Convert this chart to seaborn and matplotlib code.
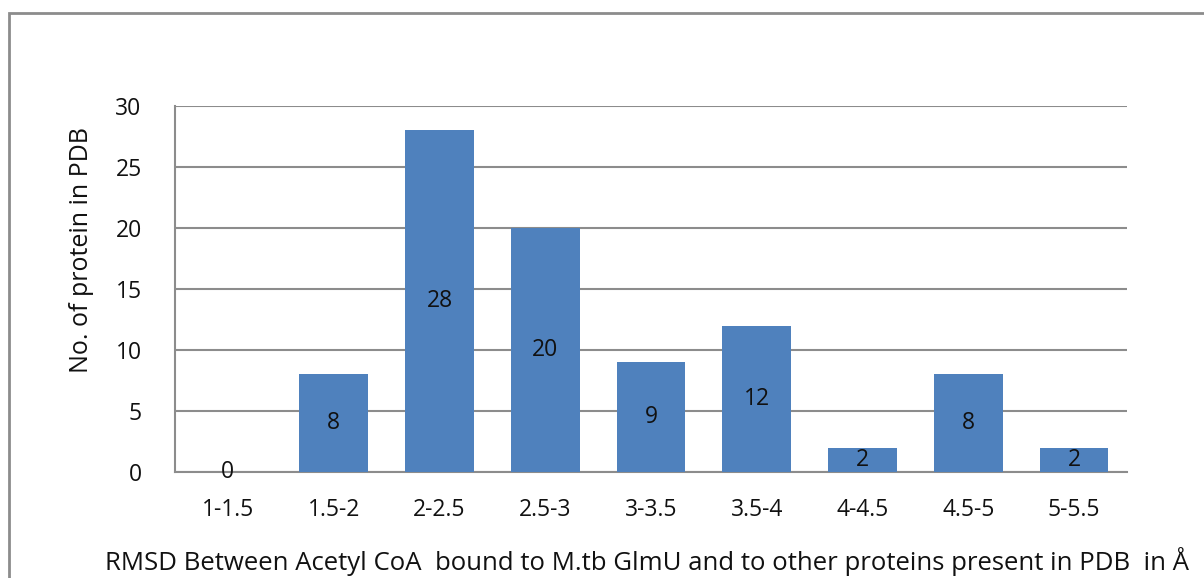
import matplotlib
matplotlib.use("Agg")
import matplotlib.pyplot as plt
from matplotlib.patches import Rectangle
import pandas as pd
import seaborn as sns

bins = ['1-1.5', '1.5-2', '2-2.5', '2.5-3', '3-3.5', '3.5-4', '4-4.5', '4.5-5', '5-5.5']
counts = [0, 8, 28, 20, 9, 12, 2, 8, 2]
y_ticks = [0, 5, 10, 15, 20, 25, 30]

sns.set_theme(style="white")
plt.rcParams['font.family'] = ['Open Sans', 'DejaVu Sans']

data = pd.DataFrame({'RMSD': bins, 'Count': counts})

fig = plt.figure(figsize=(12.04, 5.78), dpi=100)
fig.patch.set_facecolor('white')
# outer chart frame (only top/left edges fall inside the image)
fig.patches.append(Rectangle((9 / 1204, -0.1), 1.2, 1 - 13 / 578 + 0.1,
                             transform=fig.transFigure, fill=False,
                             edgecolor='#8c8c8c', linewidth=2))

ax = fig.add_axes([175 / 1204, 1 - 472 / 578, (1127 - 175) / 1204, (472 - 106) / 578])
sns.barplot(data=data, x='RMSD', y='Count', color='#4F81BD', saturation=1,
            width=0.65, linewidth=0, ax=ax, zorder=3)

ax.bar_label(ax.containers[0], label_type='center', fontsize=16.5, color='#111111')

ax.set_ylim(0, 30)
ax.set_yticks(y_ticks)
ax.set_xlim(-0.5, len(bins) - 0.5)
ax.yaxis.grid(True, color='#8c8c8c', linewidth=1.5, zorder=0)
ax.set_axisbelow(True)
for side in ['top', 'right']:
    ax.spines[side].set_visible(False)
for side in ['left', 'bottom']:
    ax.spines[side].set_color('#8c8c8c')
    ax.spines[side].set_linewidth(1.5)
ax.tick_params(axis='both', length=0, labelsize=16.5, colors='#111111')
ax.tick_params(axis='y', pad=24)
ax.tick_params(axis='x', pad=19)

ax.set_ylabel('No. of protein in PDB', fontsize=18, color='#111111')
ax.yaxis.set_label_coords(-0.085, 0.607)
ax.set_xlabel('RMSD Between Acetyl CoA  bound to M.tb GlmU and to other proteins present in PDB  in Å',
              fontsize=18.5, color='#111111')
ax.xaxis.set_label_coords(0.496, -0.205)

fig.savefig('out.png', dpi=100)
